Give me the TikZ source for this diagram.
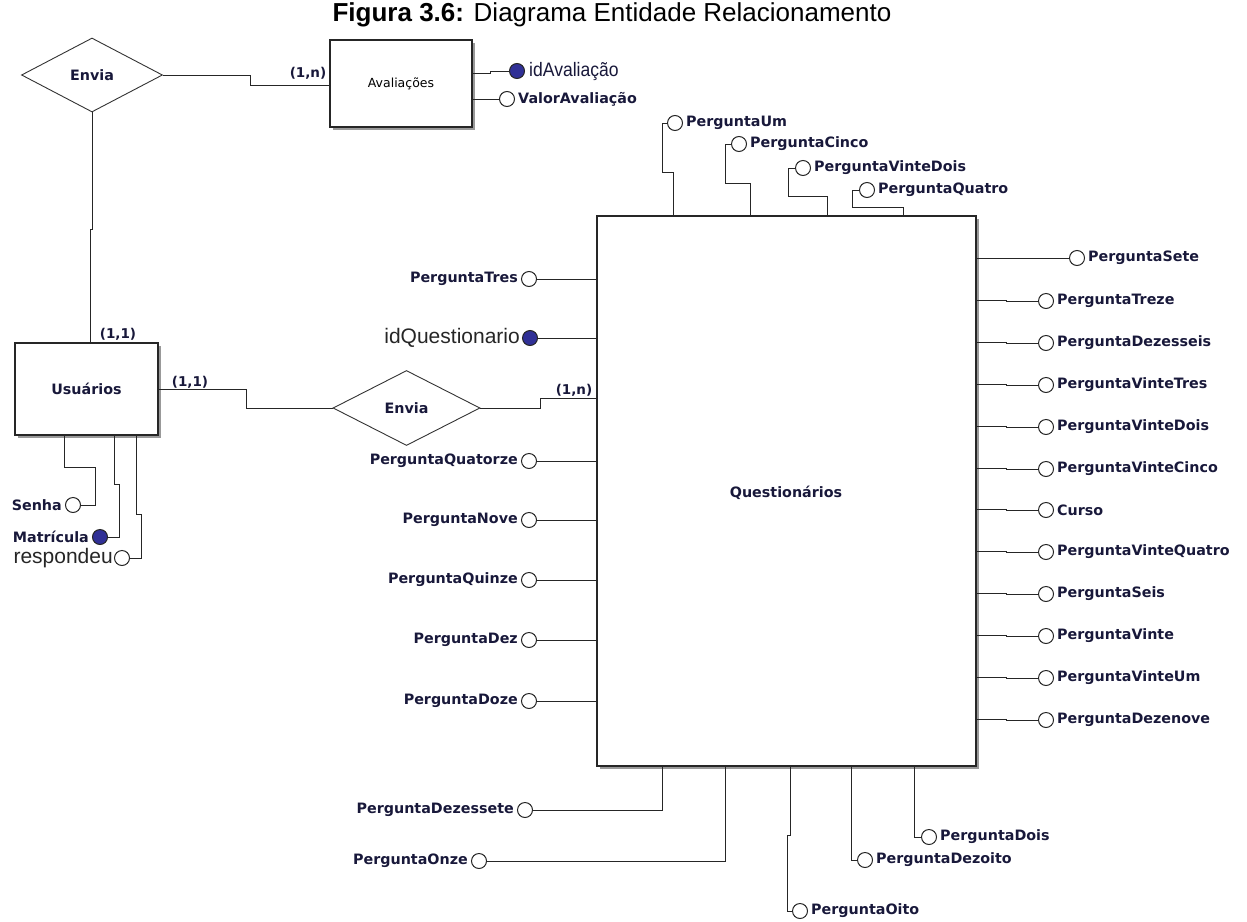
\documentclass[tikz,border=0pt]{standalone}
\usepackage{fontspec}
\setmainfont{Liberation Sans}
\newfontfamily\lblfont{DejaVu Sans}
\newfontfamily\narrowfont{Liberation Sans}[FakeStretch=0.9]
\usetikzlibrary{shapes.geometric,shadows,positioning}

\definecolor{ink}{RGB}{24,24,58}
\definecolor{keyblue}{RGB}{48,48,150}

\tikzset{
  conn/.style={line width=1pt, draw=black!85},
  entity/.style={draw=black!85, line width=1.4pt, fill=white, inner sep=0pt,
    drop shadow={shadow xshift=2.5pt, shadow yshift=-2.5pt, fill=black!40, opacity=1}},
  rel/.style={diamond, aspect=1.9, draw=black!80, line width=0.9pt, fill=white, inner sep=0pt},
  attr/.style={circle, draw=black!85, line width=1pt, fill=white, minimum size=15pt, inner sep=0pt},
  key/.style={attr, fill=keyblue},
  lbl/.style={font=\lblfont\bfseries\fontsize{14.3}{16}\selectfont, text=ink, inner sep=0pt},
  card/.style={font=\lblfont\bfseries\fontsize{13.5}{16}\selectfont, text=ink, inner sep=0pt},
  plain/.style={font=\fontsize{21}{24}\selectfont, text=black!85, inner sep=0pt},
  narrow/.style={font=\narrowfont\fontsize{19.5}{21}\selectfont, text=ink, inner sep=0pt},
  small/.style={font=\lblfont\fontsize{12.5}{14}\selectfont, text=black}
}

\begin{document}
\begin{tikzpicture}[x=1pt, y=-1pt]
\useasboundingbox (0,0) rectangle (1247,921);

% heading
\node[anchor=base, font=\fontsize{26}{29}\selectfont, inner sep=0pt] (title) at (612,21)
  {\textbf{Figura 3.6:} Diagrama Entidade Relacionamento};

% entities
\node[entity, minimum width=142pt, minimum height=87pt] (aval) at (401,83.5) {};
\node[small] (avalt) at (aval.center) {Avaliações};
\node[entity, minimum width=143pt, minimum height=92pt] (usu) at (86.5,389) {};
\node[lbl] (usut) at (usu.center) {Usuários};
\node[entity, minimum width=379pt, minimum height=550pt] (que) at (786.5,491) {};
\node[lbl] (quet) at (786,493) {Questionários};

% relationships
\node[rel, minimum width=141pt, minimum height=74pt] (env1) at (92,75) {};
\node[lbl] (env1t) at (env1.center) {Envia};
\node[rel, minimum width=147pt, minimum height=75pt] (env2) at (406.5,408) {};
\node[lbl] (env2t) at (env2.center) {Envia};

% relationship links and cardinalities
\draw[conn] (env1.east) -| (250,85) -- (aval.west |- 0,85);
\node[card] (c1) at (308,73) {(1,n)};
\draw[conn] (env1.south) -- (92,229) -- (90,229) -- (usu.north -| 90,0);
\node[card] (c2) at (118,334) {(1,1)};
\draw[conn] (usu.east) -| (246,408) -- (env2.west);
\node[card] (c3) at (190,382) {(1,1)};
\draw[conn] (env2.east) -| (540,398) -- (que.west |- 0,398);
\node[card] (c4) at (574,390) {(1,n)};

% Avaliacoes attributes
\node[key] (idav) at (517,71) {};
\node[narrow, right=4pt of idav] (idavt) {idAvaliação};
\draw[conn] (aval.east |- 0,73) -- (490,73) |- (idav.west);
\node[attr] (valav) at (507,99) {};
\node[lbl, right=3pt of valav] (valavt) {ValorAvaliação};
\draw[conn] (aval.east |- 0,99) -- (valav.west);

% Usuarios attributes
\node[attr] (senha) at (73,505) {};
\node[lbl, left=3pt of senha] (senhat) {Senha};
\draw[conn] (usu.south -| 64,0) |- (95,467) |- (senha.east);
\node[key] (mat) at (100,537) {};
\node[lbl, left=3pt of mat] (matt) {Matrícula};
\draw[conn] (usu.south -| 114,0) |- (119,484) |- (mat.east);
\node[attr] (resp) at (122,558) {};
\node[plain, left=1pt of resp] (respt) {respondeu};
\draw[conn] (usu.south -| 136,0) |- (141,514) |- (resp.east);

% Questionarios: left side
\node[key] (idq) at (530,338) {};
\node[plain, left=2pt of idq] (idqt) {idQuestionario};
\draw[conn] (idq.east) -- (que.west |- idq.east);
\foreach \yy/\nm/\txt in {279/qa/PerguntaTres, 461/qb/PerguntaQuatorze, 520/qc/PerguntaNove,
    580/qd/PerguntaQuinze, 640/qe/PerguntaDez, 701/qf/PerguntaDoze}{
  \node[attr] (\nm) at (529,\yy) {};
  \node[lbl, left=3pt of \nm] (\nm-t) {\txt};
  \draw[conn] (\nm.east) -- (que.west |- \nm.east);
}

% Questionarios: right side
\node[attr] (rs) at (1077,258) {};
\node[lbl, right=3pt of rs] (rs-t) {PerguntaSete};
\draw[conn] (que.east |- 0,258) -- (rs.west);
\foreach \yy/\nm/\txt in {300/ra/PerguntaTreze, 342/rb/PerguntaDezesseis, 384/rc/PerguntaVinteTres,
    426/rd/PerguntaVinteDois, 468/re/PerguntaVinteCinco, 509/rf/Curso,
    551/rg/PerguntaVinteQuatro, 593/rh/PerguntaSeis, 635/ri/PerguntaVinte,
    677/rj/PerguntaVinteUm, 719/rk/PerguntaDezenove}{
  \node[attr] (\nm) at (1046,\yy+1) {};
  \node[lbl, right=3pt of \nm] (\nm-t) {\txt};
  \draw[conn] (que.east |- 0,\yy) -- (1006,\yy) |- (\nm.west);
}

% Questionarios: top side
\node[attr] (tu) at (675,123) {};
\node[lbl, right=3pt of tu] (tu-t) {PerguntaUm};
\draw[conn] (tu.west) -| (662,172) -| (que.north -| 673,0);
\node[attr] (tc) at (739,144) {};
\node[lbl, right=3pt of tc] (tc-t) {PerguntaCinco};
\draw[conn] (tc.west) -| (725,183) -| (que.north -| 750,0);
\node[attr] (tv) at (803,168) {};
\node[lbl, right=3pt of tv] (tv-t) {PerguntaVinteDois};
\draw[conn] (tv.west) -| (788,196) -| (que.north -| 827,0);
\node[attr] (tq) at (867,190) {};
\node[lbl, right=3pt of tq] (tq-t) {PerguntaQuatro};
\draw[conn] (tq.west) -| (852,207) -| (que.north -| 903,0);

% Questionarios: bottom side
\node[attr] (bd) at (525,810) {};
\node[lbl, left=3pt of bd] (bd-t) {PerguntaDezessete};
\draw[conn] (que.south -| 662,0) |- (bd.east);
\node[attr] (bo) at (479,861) {};
\node[lbl, left=3pt of bo] (bo-t) {PerguntaOnze};
\draw[conn] (que.south -| 725,0) |- (bo.east);
\node[attr] (b8) at (800,911) {};
\node[lbl, right=3pt of b8] (b8-t) {PerguntaOito};
\draw[conn] (que.south -| 790,0) -- (790,835) -- (787,835) |- (b8.west);
\node[attr] (b18) at (865,860) {};
\node[lbl, right=3pt of b18] (b18-t) {PerguntaDezoito};
\draw[conn] (que.south -| 851,0) |- (b18.west);
\node[attr] (b2) at (929,837) {};
\node[lbl, right=3pt of b2] (b2-t) {PerguntaDois};
\draw[conn] (que.south -| 914,0) |- (b2.west);
\end{tikzpicture}
\end{document}
